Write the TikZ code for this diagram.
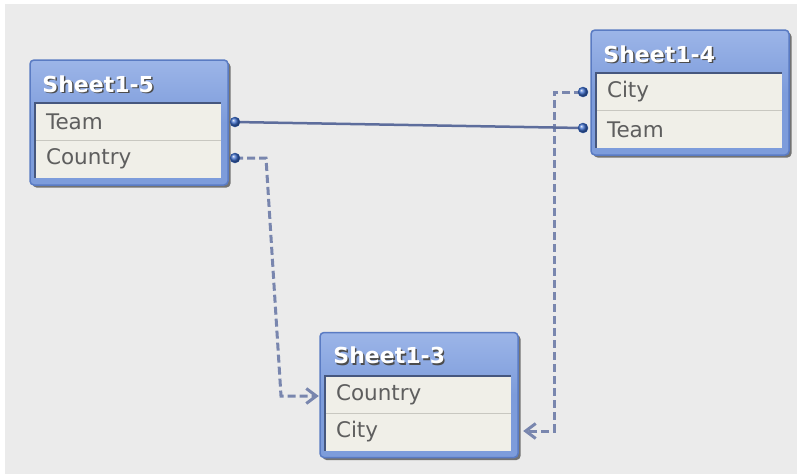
\documentclass[tikz,border=0pt]{standalone}
\usepackage{fontspec}
\setmainfont{DejaVu Sans}
\usetikzlibrary{arrows.meta, positioning, shadows}

\definecolor{bggray}{HTML}{EBEBEB}
\definecolor{headblue}{HTML}{7D9CDB}
\definecolor{headtop}{HTML}{9CB5E8}
\definecolor{boxedge}{HTML}{5A7BC3}
\definecolor{rowfill}{HTML}{F0EFE8}
\definecolor{rowline}{HTML}{C8C7C0}
\definecolor{innerdark}{HTML}{46577E}
\definecolor{rowtext}{HTML}{5E5E5E}
\definecolor{linksolid}{HTML}{5D6D9C}
\definecolor{linkdash}{HTML}{7986AE}
\definecolor{dotblue}{HTML}{3A6BCB}

\tikzset{
  tablebox/.style={draw=boxedge, line width=1.5pt, rounded corners=4pt,
    top color=headtop, bottom color=headblue, middle color=headblue,
    minimum width=198pt, minimum height=125pt, inner sep=0pt,
    drop shadow={shadow xshift=2.5pt, shadow yshift=-2.5pt, fill=black!60, opacity=0.9}},
  headtext/.style={anchor=base west, inner sep=0pt, text=white,
    font=\fontsize{22}{26}\selectfont\bfseries},
  headshade/.style={headtext, text=black!70},
  rowcell/.style={fill=rowfill, minimum width=186pt, minimum height=37pt,
    text width=164pt, inner xsep=11pt, inner ysep=0pt, align=left,
    text=rowtext, font=\fontsize{21.5}{25}\selectfont},
  keydot/.style={circle, inner sep=0pt, minimum size=10pt,
    ball color=dotblue, draw=dotblue!80!black, line width=0.4pt},
  solidlink/.style={draw=linksolid, line width=2.5pt},
  dashlink/.style={draw=linkdash, line width=3pt, dash pattern=on 8pt off 4pt,
    -{Straight Barb[length=10pt, width=15pt, line width=3pt]}}
}

\begin{document}
\begin{tikzpicture}[x=1pt, y=-1pt]
\useasboundingbox (0,0) rectangle (797,474);
\fill[white] (0,0) rectangle (797,474);
\fill[bggray] (5,4) rectangle (797,474);

% Sheet1-5
\node[tablebox] (s5) at (129,122.5) {};
\node[headshade] (s5hs) at ([shift={(14.5,34.5)}]s5.north west) {Sheet1-5};
\node[headtext] (s5h) at ([shift={(13,33)}]s5.north west) {Sheet1-5};
\node[rowcell] (s5team) at (128,121.5) {Team};
\node[rowcell] (s5country) at (128,159) {Country};
\draw[rowline, line width=1pt] (s5country.north west) -- (s5country.north east);
\draw[innerdark, line width=2pt] (s5country.south west) -- (s5team.north west) -- (s5team.north east);

% Sheet1-4
\node[tablebox] (s4) at (690,92.5) {};
\node[headshade] (s4hs) at ([shift={(14.5,34.5)}]s4.north west) {Sheet1-4};
\node[headtext] (s4h) at ([shift={(13,33)}]s4.north west) {Sheet1-4};
\node[rowcell] (s4city) at (689,92) {City};
\node[rowcell] (s4team) at (689,129.5) {Team};
\draw[rowline, line width=1pt] (s4team.north west) -- (s4team.north east);
\draw[innerdark, line width=2pt] (s4team.south west) -- (s4city.north west) -- (s4city.north east);

% Sheet1-3
\node[tablebox] (s3) at (419,395) {};
\node[headshade] (s3hs) at ([shift={(15.5,33.5)}]s3.north west) {Sheet1-3};
\node[headtext] (s3h) at ([shift={(14,32)}]s3.north west) {Sheet1-3};
\node[rowcell] (s3country) at (418,394.5) {Country};
\node[rowcell] (s3city) at (418,432) {City};
\draw[rowline, line width=1pt] (s3city.north west) -- (s3city.north east);
\draw[innerdark, line width=2pt] (s3city.south west) -- (s3country.north west) -- (s3country.north east);

% links
\coordinate (bendA) at (266,158);
\coordinate (bendB) at (281,396);
\coordinate (bendC) at (554,92);
\coordinate (bendD) at (554,431);
\draw[dashlink] (235,158) -- (bendA) -- (bendB) -- ([xshift=-6pt]s3country.west |- bendB);
\draw[dashlink] (582,92) -- (bendC) -- (bendD) -- ([xshift=12pt]s3city.east |- bendD);
\draw[solidlink] (235,122) -- (582,128);

\node[keydot] (d5team) at (235,122) {};
\node[keydot] (d5country) at (235,158) {};
\node[keydot] (d4city) at (583,92) {};
\node[keydot] (d4team) at (583,128) {};
\end{tikzpicture}
\end{document}
